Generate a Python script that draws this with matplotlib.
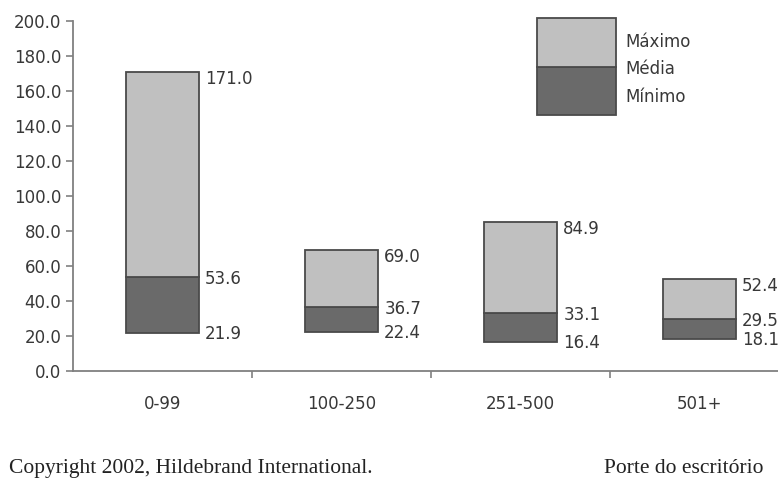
import matplotlib.pyplot as plt
from matplotlib.patches import Rectangle
import numpy as np

# Data
categories = ["0-99", "100-250", "251-500", "501+"]
minimo = [21.9, 22.4, 16.4, 18.1]
media = [53.6, 36.7, 33.1, 29.5]
maximo = [171.0, 69.0, 84.9, 52.4]

light = "#c0c0c0"
dark = "#6a6a6a"
edge = "#4a4a4a"
txt = "#383838"
fs = 12

fig = plt.figure(figsize=(7.78, 4.79), dpi=100)
ax = fig.add_axes([73 / 778, 0.2255, 716 / 778, 0.7307])

x = np.arange(len(categories))
w = 0.41
mn = np.array(minimo)
me = np.array(media)
mx = np.array(maximo)

ax.bar(x, me - mn, bottom=mn, width=w, color=dark, edgecolor=edge, linewidth=1.3)
ax.bar(x, mx - me, bottom=me, width=w, color=light, edgecolor=edge, linewidth=1.3)

# value labels to the right of each bar
for i in range(len(categories)):
    xr = x[i] + w / 2
    ax.annotate(f"{mx[i]:.1f}", (xr, mx[i]), xytext=(6, -7), textcoords="offset pixels",
                ha="left", va="center", fontsize=fs, color=txt)
    ax.annotate(f"{me[i]:.1f}", (xr, me[i]), xytext=(6, -2), textcoords="offset pixels",
                ha="left", va="center", fontsize=fs, color=txt)
    ax.annotate(f"{mn[i]:.1f}", (xr, mn[i]), xytext=(6, -1), textcoords="offset pixels",
                ha="left", va="center", fontsize=fs, color=txt)

ax.set_xlim(-0.5, 3.5)
ax.set_ylim(0, 200)
ax.set_yticks(np.arange(0, 201, 20))
ax.set_yticklabels([f"{v:.1f}" for v in np.arange(0, 201, 20)])
ax.set_xticks(x)
ax.set_xticklabels(categories)
ax.set_xticks([0.5, 1.5, 2.5], minor=True)
ax.tick_params(axis="x", which="major", length=0, pad=17, labelsize=fs, labelcolor=txt)
ax.tick_params(axis="x", which="minor", length=5, width=1.2, color="#808080")
ax.tick_params(axis="y", length=5, width=1.2, color="#808080", labelsize=fs, labelcolor=txt)

for s in ["top", "right"]:
    ax.spines[s].set_visible(False)
for s in ["left", "bottom"]:
    ax.spines[s].set_color("#808080")
    ax.spines[s].set_linewidth(1.3)

# legend drawn as a floating bar
def px(xp, yp):
    return xp / 778, 1 - yp / 479

x0, y0 = px(537, 115)
x1, y1 = px(616, 67)
fig.add_artist(Rectangle((x0, y0), x1 - x0, y1 - y0, transform=fig.transFigure,
                         facecolor=dark, edgecolor=edge, linewidth=1.3))
x0, y0 = px(537, 67)
x1, y1 = px(616, 18)
fig.add_artist(Rectangle((x0, y0), x1 - x0, y1 - y0, transform=fig.transFigure,
                         facecolor=light, edgecolor=edge, linewidth=1.3))
for label, yp in [("Máximo", 42), ("Média", 69), ("Mínimo", 97)]:
    fx, fy = px(625, yp)
    fig.text(fx, fy, label, ha="left", va="center", fontsize=fs, color=txt)

# footer
fx, fy = px(9, 473)
fig.text(fx, fy, "Copyright 2002, Hildebrand International.", ha="left", va="baseline",
         fontsize=15.5, family="Liberation Serif", color="#222222")
fx, fy = px(763, 473)
fig.text(fx, fy, "Porte do escritório", ha="right", va="baseline",
         fontsize=15.5, family="Liberation Serif", color="#222222")

plt.savefig("out.png", dpi=100)
